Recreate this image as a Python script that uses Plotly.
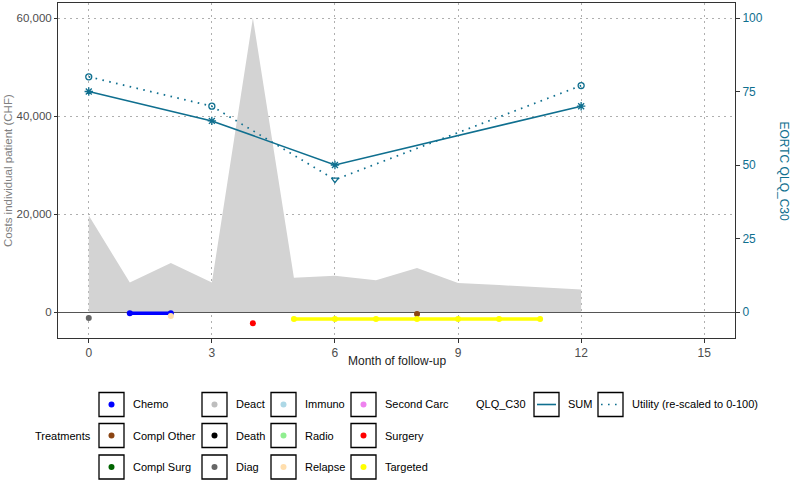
import plotly.graph_objects as go

# ---------------- data ----------------
cost_months = [0, 1, 2, 3, 4, 5, 6, 7, 8, 9, 10, 11, 12]
costs = [19700, 6000, 10000, 6000, 60000, 7000, 7400, 6500, 9000, 5900, 5500, 5100, 4600]

qlq_months = [0, 3, 6, 12]
qlq_sum = [75, 65, 50, 70]
utility = [80, 70, 45, 77]
utility_symbols = ["circle-open", "circle-open", "triangle-down-open", "circle-open"]

# treatment events (month(s), vertical position in cost units)
treat_names = ["Chemo", "Compl Other", "Compl Surg", "Deact", "Death", "Diag",
               "Immuno", "Radio", "Relapse", "Second Carc", "Surgery", "Targeted"]
treat_colors = ["#0000FF", "#8B4513", "#006400", "#BEBEBE", "#000000", "#666666",
                "#ADD8E6", "#90EE90", "#FFDEAD", "#EE82EE", "#FF0000", "#FFFF00"]
treat_events = {
    "Diag": ([0], [-1200]),
    "Chemo": ([1, 2], [-250, -250]),
    "Relapse": ([2], [-800]),
    "Surgery": ([4], [-2300]),
    "Targeted": ([5, 6, 7, 8, 9, 10, 11], [-1450] * 7),
    "Compl Other": ([8], [-400]),
}

x_ticks = [0, 3, 6, 9, 12, 15]
y_ticks = [0, 20000, 40000, 60000]
y2_ticks = [0, 25, 50, 75, 100]
x_range = [-0.75, 15.75]
y_range = [-5306, 63061]
scale2 = 600.0  # 60000 cost units <-> 100 score

TEAL = "#0F6F8F"
FONT = "Liberation Sans, Arial, sans-serif"
GRID_DASH = "1.5px,4.5px"
UTIL_DASH = "1.6px,5.4px"

# ---------------- layout geometry ----------------
W, H = 791, 484
ML, MR, MT, MB = 58, 56, 3, 146
PW, PH = W - ML - MR, H - MT - MB


def px(x, y):
    return (x - ML) / PW, (H - MB - y) / PH


fig = go.Figure()

# cost area
fig.add_trace(go.Scatter(x=cost_months, y=costs, mode="lines", fill="tozeroy",
                         fillcolor="#D3D3D3", line=dict(width=0, color="#D3D3D3"),
                         showlegend=False, hoverinfo="skip"))

# treatments
for name, col in zip(treat_names, treat_colors):
    if name in treat_events:
        xs, ys = treat_events[name]
        fig.add_trace(go.Scatter(x=xs, y=ys, mode="lines+markers",
                                 line=dict(color=col, width=3.5),
                                 marker=dict(color=col, size=6),
                                 showlegend=False, name=name))

# QLQ lines (secondary axis)
fig.add_trace(go.Scatter(x=qlq_months, y=qlq_sum, yaxis="y2", mode="lines+markers",
                         line=dict(color=TEAL, width=1.6),
                         marker=dict(symbol="asterisk-open", size=7, color=TEAL,
                                     line=dict(color=TEAL, width=1.3)),
                         showlegend=False, name="SUM"))
fig.add_trace(go.Scatter(x=qlq_months, y=utility, yaxis="y2", mode="lines+markers",
                         line=dict(color=TEAL, width=1.7, dash=UTIL_DASH),
                         marker=dict(symbol=utility_symbols, size=6, color=TEAL,
                                     line=dict(color=TEAL, width=1.3)),
                         showlegend=False, name="Utility"))

# ---------------- manual legend ----------------
shapes = []
annotations = []
col_box_x = [99, 202, 271, 351]
row_cy = [404.5, 435.5, 467]
box_w, box_h = 25, 24
for i, (name, col) in enumerate(zip(treat_names, treat_colors)):
    c, r = divmod(i, 3)
    bx, cy = col_box_x[c], row_cy[r]
    x0, y0 = px(bx, cy + box_h / 2)
    x1, y1 = px(bx + box_w, cy - box_h / 2)
    shapes.append(dict(type="rect", xref="paper", yref="paper", x0=x0, y0=y0, x1=x1, y1=y1,
                       line=dict(color="black", width=1.3), fillcolor="white"))
    cx = bx + box_w / 2
    d0 = px(cx - 3, cy + 3)
    d1 = px(cx + 3, cy - 3)
    shapes.append(dict(type="circle", xref="paper", yref="paper", x0=d0[0], y0=d0[1],
                       x1=d1[0], y1=d1[1], line=dict(width=0), fillcolor=col))
    tx, ty = px(bx + box_w + 7, cy)
    annotations.append(dict(text=name, xref="paper", yref="paper", x=tx, y=ty,
                            xanchor="left", yanchor="middle", showarrow=False,
                            font=dict(size=11, color="black", family=FONT)))

tx, ty = px(93, row_cy[1])
annotations.append(dict(text="Treatments", xref="paper", yref="paper", x=tx, y=ty,
                        xanchor="right", yanchor="middle", showarrow=False,
                        font=dict(size=11, color="black", family=FONT)))
tx, ty = px(474, row_cy[0])
annotations.append(dict(text="QLQ_C30", xref="paper", yref="paper", x=tx, y=ty,
                        xanchor="left", yanchor="middle", showarrow=False,
                        font=dict(size=11, color="black", family=FONT)))

qlq_keys = [("SUM", 534, "solid"), ("Utility (re-scaled to 0-100)", 598, UTIL_DASH)]
for label, bx, dash in qlq_keys:
    cy = row_cy[0]
    x0, y0 = px(bx, cy + box_h / 2)
    x1, y1 = px(bx + box_w, cy - box_h / 2)
    shapes.append(dict(type="rect", xref="paper", yref="paper", x0=x0, y0=y0, x1=x1, y1=y1,
                       line=dict(color="black", width=1.3), fillcolor="white"))
    l0 = px(bx + 3, cy)
    l1 = px(bx + box_w - 3, cy)
    shapes.append(dict(type="line", xref="paper", yref="paper", x0=l0[0], y0=l0[1],
                       x1=l1[0], y1=l1[1], line=dict(color=TEAL, width=1.6, dash=dash)))
    tx, ty = px(bx + box_w + 7, cy)
    annotations.append(dict(text=label, xref="paper", yref="paper", x=tx, y=ty,
                            xanchor="left", yanchor="middle", showarrow=False,
                            font=dict(size=11, color="black", family=FONT)))

# axis titles as annotations (fixed positions)
tx, ty = px(784, (MT + H - MB) / 2)
annotations.append(dict(text="EORTC QLQ_C30", xref="paper", yref="paper", x=tx, y=ty,
                        xanchor="center", yanchor="middle", showarrow=False, textangle=90,
                        font=dict(size=12, color=TEAL, family=FONT)))
tx, ty = px(7.5, (MT + H - MB) / 2)
annotations.append(dict(text="Costs individual patient (CHF)", xref="paper", yref="paper",
                        x=tx, y=ty, xanchor="center", yanchor="middle", showarrow=False,
                        textangle=-90, font=dict(size=11.5, color="#808080", family=FONT)))
tx, ty = px((ML + W - MR) / 2, 361)
annotations.append(dict(text="Month of follow-up", xref="paper", yref="paper",
                        x=tx, y=ty, xanchor="center", yanchor="middle", showarrow=False,
                        font=dict(size=12, color="#222222", family=FONT)))

fig.update_layout(
    width=W, height=H,
    margin=dict(l=ML, r=MR, t=MT, b=MB, pad=0, autoexpand=False),
    paper_bgcolor="white", plot_bgcolor="white",
    font=dict(family=FONT, size=12, color="#4D4D4D"),
    shapes=shapes, annotations=annotations,
    xaxis=dict(range=x_range, tickvals=x_ticks, showgrid=True, gridcolor="#AFAFAF",
               griddash=GRID_DASH, gridwidth=1, zeroline=False, showline=True, mirror=True,
               linecolor="#333333", linewidth=1, ticks="outside", ticklen=4,
               tickcolor="#333333", tickfont=dict(size=12, color="#4D4D4D"),
               automargin=False, layer="above traces"),
    yaxis=dict(range=y_range, tickvals=y_ticks, tickformat=",", showgrid=True,
               gridcolor="#AFAFAF", griddash=GRID_DASH, gridwidth=1, zeroline=True,
               zerolinecolor="#555555", zerolinewidth=1.3, showline=True, mirror=False,
               linecolor="#333333", linewidth=1, ticks="outside", ticklen=3,
               tickcolor="#333333", tickfont=dict(size=11.5, color="#4D4D4D"),
               automargin=False, layer="above traces"),
    yaxis2=dict(range=[v / scale2 for v in y_range], tickvals=y2_ticks, overlaying="y",
                side="right", showgrid=False, zeroline=False, showline=True,
                linecolor="#333333", linewidth=1, ticks="outside", ticklen=4,
                tickcolor="#333333", tickfont=dict(size=12, color=TEAL),
                automargin=False),
    showlegend=False,
)

fig.write_html("out.html")
